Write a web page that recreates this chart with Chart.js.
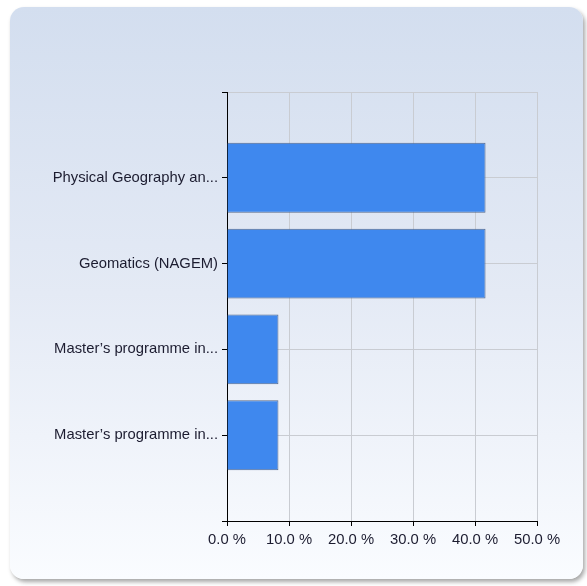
<!DOCTYPE html>
<html>
<head>
<meta charset="utf-8">
<script src="https://cdn.jsdelivr.net/npm/chart.js@4"></script>
<style>
  html, body { margin: 0; padding: 0; background: #ffffff; }
  body { width: 587px; height: 586px; position: relative; overflow: hidden; }
  .panel {
    position: absolute; left: 10px; top: 7px; width: 573px; height: 572px;
    border-radius: 14px;
    background: linear-gradient(to bottom, #d3deef 0%, #e4eaf5 50%, #fafcff 100%);
    box-shadow: 2px 3px 4px rgba(0, 0, 0, 0.35);
  }
  #chart { position: absolute; left: 0; top: 0; }
</style>
</head>
<body>
<div class="panel"></div>
<canvas id="chart" width="587" height="586"></canvas>
<script>
// Categories (empty strings pad one slot above and below, as in the original)
const categories = [
  '',
  'Physical Geography an...',
  'Geomatics (NAGEM)',
  'Master\u2019s programme in...',
  'Master\u2019s programme in...',
  ''
];
// Share of answers in percent
const shares = [null, 41.7, 41.7, 8.3, 8.3, null];
const xTicks = [0, 10, 20, 30, 40, 50];

const textColor = '#1c1c30';
const gridColor = '#c9ccd2';
const fontFamily = 'Arial, "Liberation Sans", sans-serif';

const config = {
  type: 'bar',
  data: {
    labels: categories,
    datasets: [{
      data: shares,
      backgroundColor: '#3f88ee',
      borderColor: '#56698a',
      borderWidth: 1,
      categoryPercentage: 1,
      barPercentage: 0.815
    }]
  },
  options: {
    indexAxis: 'y',
    responsive: false,
    animation: false,
    layout: { padding: { left: 0, right: 50, top: 92, bottom: 35 } },
    plugins: {
      legend: { display: false },
      tooltip: { enabled: false }
    },
    scales: {
      x: {
        type: 'linear',
        min: xTicks[0],
        max: xTicks[xTicks.length - 1],
        afterBuildTicks: (axis) => { axis.ticks = xTicks.map(v => ({ value: v })); },
        afterFit: (axis) => { axis.height = 30; },
        border: { color: '#000000', width: 1 },
        grid: { color: gridColor, tickColor: '#000000', tickLength: 5 },
        ticks: {
          color: textColor,
          padding: 5,
          font: { family: fontFamily, size: 14.8 },
          callback: (v) => v.toFixed(1) + ' %'
        }
      },
      y: {
        type: 'category',
        offset: false,
        afterFit: (axis) => { axis.width = 227; },
        border: { color: '#000000', width: 1 },
        grid: { offset: false, color: gridColor, tickColor: '#000000', tickLength: 5 },
        ticks: {
          color: textColor,
          padding: 4,
          autoSkip: false,
          font: { family: fontFamily, size: 14.8 }
        }
      }
    }
  }
};

new Chart(document.getElementById('chart'), config);
</script>
</body>
</html>
